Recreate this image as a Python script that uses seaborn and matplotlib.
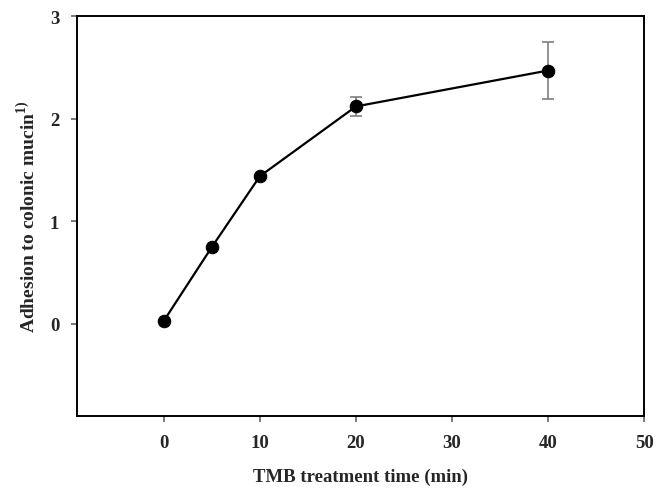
import matplotlib
matplotlib.use("Agg")
import matplotlib.pyplot as plt
import seaborn as sns
import pandas as pd

# values
time_min = [0, 5, 10, 20, 40]
adhesion = [0.03, 0.75, 1.44, 2.12, 2.47]
adhesion_err = [0.0, 0.0, 0.0, 0.095, 0.28]
xticks = [0, 10, 20, 30, 40, 50]
yticks = [0, 1, 2, 3]

sns.set_style("white")
plt.rcParams['font.family'] = ['Liberation Serif', 'DejaVu Serif']
plt.rcParams['font.weight'] = 'bold'
plt.rcParams['mathtext.fontset'] = 'custom'
plt.rcParams['mathtext.rm'] = 'Liberation Serif:bold'
plt.rcParams['mathtext.bf'] = 'Liberation Serif:bold'
plt.rcParams['xtick.bottom'] = True
plt.rcParams['ytick.left'] = True
plt.rcParams['xtick.major.size'] = 4
plt.rcParams['ytick.major.size'] = 4

df = pd.DataFrame({'time': time_min, 'adh': adhesion, 'err': adhesion_err})

fig = plt.figure(figsize=(6.69, 4.89), dpi=100)
ax = fig.add_axes([0.1156, 0.1466, 0.963 - 0.1156, 0.965 - 0.1466])

# error bars first (grey, drawn under the markers)
ax.errorbar(df['time'], df['adh'], yerr=df['err'], fmt='none',
            ecolor='#7f7f7f', elinewidth=1.2, capsize=4, capthick=1.2, zorder=2)
sns.lineplot(data=df, x='time', y='adh', color='black', linewidth=1.6,
             marker='o', markersize=9, markeredgecolor='black', ax=ax, zorder=3)

ax.set_xlim(-9, 50)
ax.set_ylim(-0.9, 3)
ax.set_xticks(xticks)
ax.set_yticks(yticks)

for s in ax.spines.values():
    s.set_visible(True)
    s.set_color('black')
    s.set_linewidth(1.4)

ax.tick_params(axis='both', which='major', direction='out', length=4, width=1.1,
               color='#555555', labelsize=13.5, pad=9, bottom=True, left=True)
for lab in ax.get_xticklabels() + ax.get_yticklabels():
    lab.set_fontweight('bold')

ax.set_xlabel('TMB treatment time (min)', fontsize=13.5, fontweight='bold', labelpad=12)
ax.set_ylabel(r'Adhesion to colonic mucin$^{\mathbf{1)}}$', fontsize=14,
              fontweight='bold', labelpad=8)

fig.savefig('out.png', dpi=100)
